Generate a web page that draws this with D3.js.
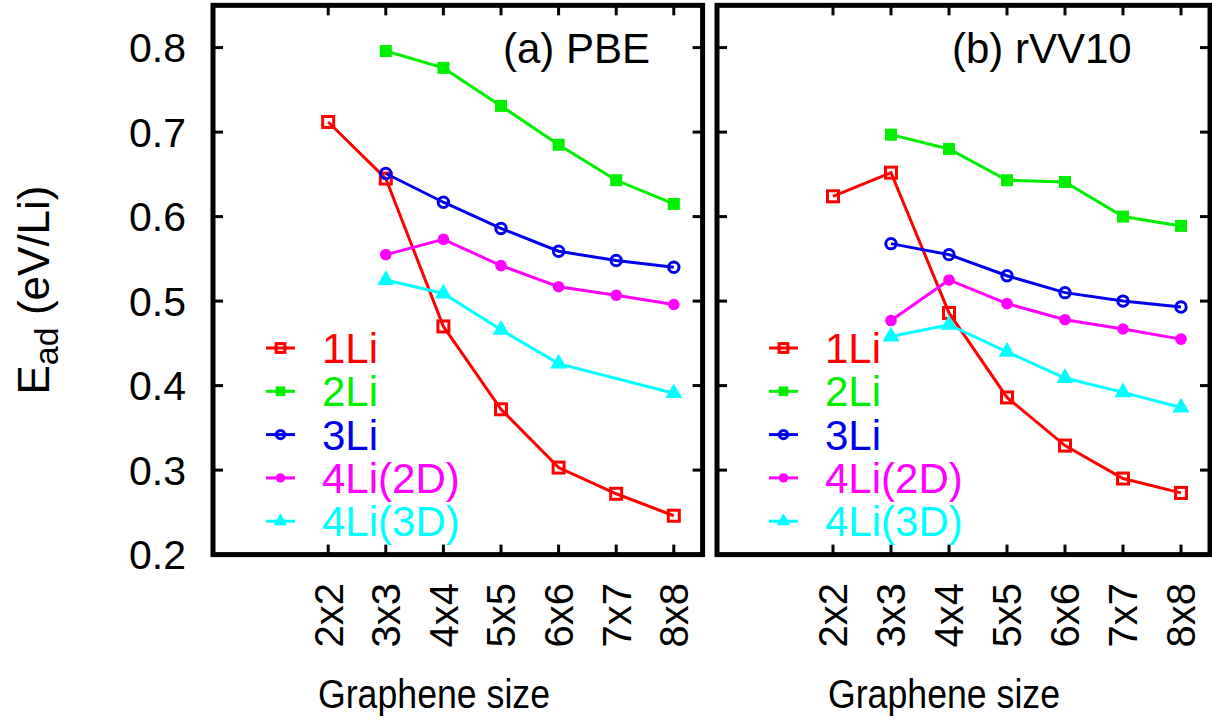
<!DOCTYPE html>
<html><head><meta charset="utf-8">
<script src="https://cdn.jsdelivr.net/npm/d3@7"></script>
<style>body{margin:0;background:#fff} svg{display:block} text{font-family:"Liberation Sans",Arial,Helvetica,sans-serif}</style>
</head><body><svg id="c" width="1212" height="723"></svg>
<script>
const categories = ["2x2","3x3","4x4","5x5","6x6","7x7","8x8"];
const sizes = [2,3,4,5,6,7,8];
const seriesNames = ["1Li","2Li","3Li","4Li(2D)","4Li(3D)"];
const yTicks = [0.2,0.3,0.4,0.5,0.6,0.7,0.8];
const panelTitles = ["(a) PBE","(b) rVV10"];
const xTitle = "Graphene size";
// PBE
const pbe1Li   = [0.712,0.645,0.470,0.372,0.303,0.272,0.246];
const pbe2Li   = [null,0.796,0.776,0.731,0.685,0.643,0.615];
const pbe3Li   = [null,0.651,0.617,0.586,0.559,0.548,0.540];
const pbe4Li2D = [null,0.555,0.573,0.542,0.517,0.507,0.496];
const pbe4Li3D = [null,0.525,0.509,0.466,0.426,null,0.391];
// rVV10
const vv1Li    = [0.624,0.652,0.486,0.386,0.329,0.290,0.273];
const vv2Li    = [null,0.697,0.680,0.643,0.641,0.600,0.589];
const vv3Li    = [null,0.568,0.555,0.530,0.510,0.500,0.493];
const vv4Li2D  = [null,0.477,0.525,0.497,0.478,0.467,0.455];
const vv4Li3D  = [null,0.458,0.472,0.440,0.409,0.392,0.374];

const colors = ["#ff0000","#00ee00","#0000ee","#ff00ff","#00ffff"];
const markerTypes = ["openSquare","square","openCircle","circle","triangle"];

const panels = [
  {title: panelTitles[0], series:[pbe1Li,pbe2Li,pbe3Li,pbe4Li2D,pbe4Li3D], x0:213, x1:702.6, yLabels:true, titleX:503, legendX:266, xTitleX:434},
  {title: panelTitles[1], series:[vv1Li,vv2Li,vv3Li,vv4Li2D,vv4Li3D], x0:717, x1:1210, yLabels:false, titleX:952, legendX:769, xTitleX:944}
];

const svg = d3.select("#c");
const y = d3.scaleLinear().domain([0.2,0.85]).range([554.6,5.35]);

function drawMarker(g, type, color, cx, cy, k) {
  if (type === "openSquare") {
    const s = 5.5*k;
    g.append("rect").attr("x",cx-s).attr("y",cy-s).attr("width",2*s).attr("height",2*s)
      .attr("fill","none").attr("stroke",color).attr("stroke-width",3);
  } else if (type === "square") {
    const s = 6*k;
    g.append("rect").attr("x",cx-s).attr("y",cy-s).attr("width",2*s).attr("height",2*s).attr("fill",color);
  } else if (type === "openCircle") {
    g.append("circle").attr("cx",cx).attr("cy",cy).attr("r",5.2*k).attr("fill","none").attr("stroke",color).attr("stroke-width",3);
  } else if (type === "circle") {
    g.append("circle").attr("cx",cx).attr("cy",cy).attr("r",5.8*k).attr("fill",color);
  } else if (type === "triangle") {
    const side = 17*k;
    const sym = d3.symbol().type(d3.symbolTriangle).size(side*side*Math.sqrt(3)/4);
    g.append("path").attr("transform",`translate(${cx},${cy})`).attr("d",sym()).attr("fill",color);
  }
}

panels.forEach(p => {
  const x = d3.scaleLinear().domain([0,8.5]).range([p.x0,p.x1]);
  const g = svg.append("g");
  yTicks.forEach(t => {
    g.append("line").attr("x1",p.x0).attr("x2",p.x0+10).attr("y1",y(t)).attr("y2",y(t)).attr("stroke","#000").attr("stroke-width",3);
    g.append("line").attr("x1",p.x1).attr("x2",p.x1-10).attr("y1",y(t)).attr("y2",y(t)).attr("stroke","#000").attr("stroke-width",3);
    if (p.yLabels) {
      g.append("text").attr("x",186).attr("y",y(t)).attr("dy","0.36em").attr("text-anchor","end")
        .attr("font-size",41).text(t.toFixed(1));
    }
  });
  sizes.forEach((s,i) => {
    g.append("line").attr("x1",x(s)).attr("x2",x(s)).attr("y1",y(0.85)).attr("y2",y(0.85)+10).attr("stroke","#000").attr("stroke-width",3);
    g.append("line").attr("x1",x(s)).attr("x2",x(s)).attr("y1",y(0.2)).attr("y2",y(0.2)-10).attr("stroke","#000").attr("stroke-width",3);
    g.append("text").attr("transform",`translate(${x(s)},583) rotate(-90)`).attr("dy","0.36em")
      .attr("text-anchor","end").attr("font-size",40).text(categories[i]);
  });
  p.series.forEach((vals, si) => {
    const pts = sizes.map((s,i)=>({s, v: vals[i]})).filter(d => d.v !== null);
    const line = d3.line().x(d=>x(d.s)).y(d=>y(d.v));
    g.append("path").attr("d",line(pts)).attr("fill","none").attr("stroke",colors[si]).attr("stroke-width",3);
    pts.forEach(d => drawMarker(g, markerTypes[si], colors[si], x(d.s), y(d.v), 1));
  });
  seriesNames.forEach((name, si) => {
    const ly = 348 + si*43.3;
    g.append("line").attr("x1",p.legendX).attr("x2",p.legendX+29).attr("y1",ly).attr("y2",ly).attr("stroke",colors[si]).attr("stroke-width",3);
    drawMarker(g, markerTypes[si], colors[si], p.legendX+14.5, ly, 0.8);
    g.append("text").attr("x",p.legendX+56).attr("y",ly+15).attr("font-size",42).attr("fill",colors[si]).text(name);
  });
  g.append("text").attr("x",p.titleX).attr("y",63).attr("font-size",42).text(p.title);
  g.append("text").attr("x",p.xTitleX).attr("y",708).attr("text-anchor","middle").attr("font-size",40)
    .attr("textLength",232).attr("lengthAdjust","spacingAndGlyphs").text(xTitle);
  g.append("rect").attr("x",p.x0).attr("y",y(0.85)).attr("width",p.x1-p.x0).attr("height",y(0.2)-y(0.85))
    .attr("fill","none").attr("stroke","#000").attr("stroke-width",5);
});

const yt = svg.append("text").attr("transform","translate(49,290) rotate(-90)").attr("text-anchor","middle").attr("font-size",44);
yt.append("tspan").text("E");
yt.append("tspan").attr("font-size",34).attr("dy",9).text("ad");
yt.append("tspan").attr("dy",-9).text(" (eV/Li)");
</script></body></html>
